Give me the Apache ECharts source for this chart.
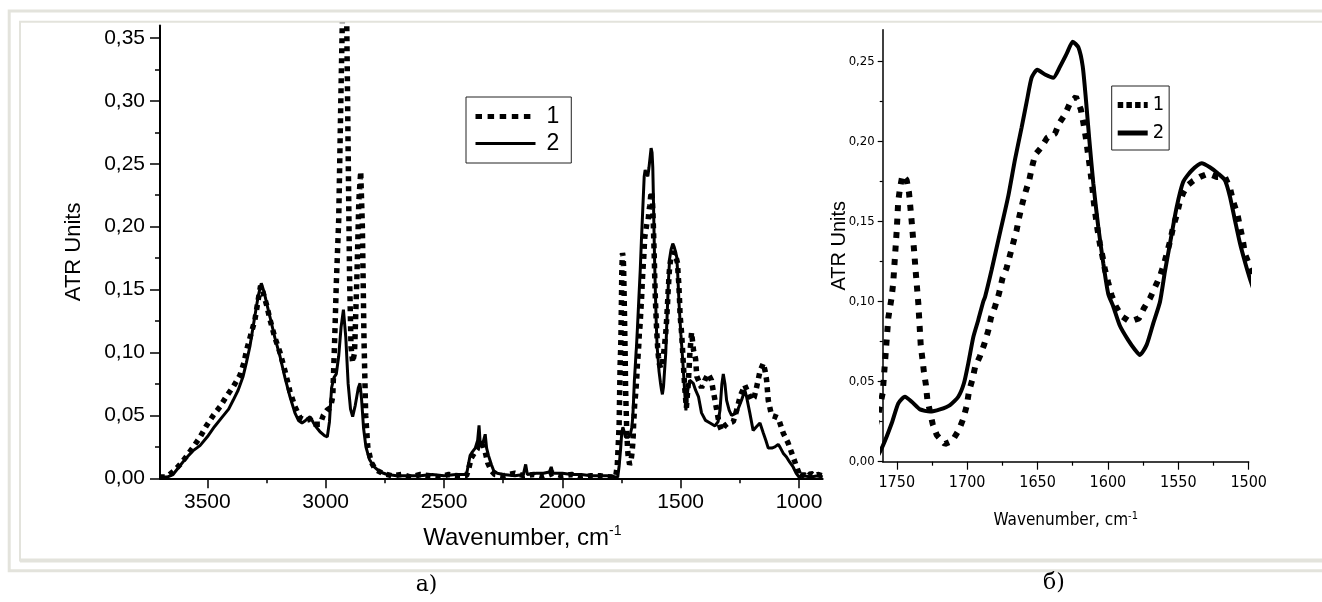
<!DOCTYPE html>
<html>
<head>
<meta charset="utf-8">
<script src="https://cdn.jsdelivr.net/npm/echarts@6/dist/echarts.min.js"></script>
<style>
  html, body { margin: 0; padding: 0; background: #fff; }
  #chart { width: 1322px; height: 602px; }
</style>
</head>
<body>
<div id="chart"></div>
<script>
// ATR spectra, sample 1 (dotted) and sample 2 (solid): [wavenumber, ATR units]
const sample1 = [
  [3700,0.001],[3680,0.001],[3660,0.003],[3640,0.006],[3615,0.011],[3590,0.017],[3559,0.025],[3530,0.033],
  [3503,0.042],[3475,0.05],[3446,0.057],[3420,0.065],[3390,0.073],[3362,0.082],[3345,0.092],[3334,0.102],
  [3315,0.115],[3299,0.126],[3285,0.142],[3275,0.153],[3265,0.148],[3250,0.138],[3235,0.126],[3215,0.112],
  [3193,0.1],[3170,0.084],[3151,0.069],[3130,0.057],[3108,0.048],[3085,0.046],[3066,0.047],[3045,0.043],
  [3024,0.043],[3010,0.05],[2995,0.054],[2980,0.056],[2970,0.065],[2962,0.11],[2955,0.155],[2945,0.205],
  [2936,0.3],[2928,0.38],[2920,0.44],[2912,0.38],[2905,0.26],[2899,0.16],[2893,0.105],[2886,0.092],
  [2878,0.1],[2868,0.16],[2860,0.22],[2852,0.244],[2845,0.2],[2838,0.11],[2831,0.05],[2822,0.025],
  [2808,0.013],[2790,0.007],[2760,0.004],[2720,0.002],[2680,0.003],[2640,0.001],[2600,0.003],[2560,0.002],
  [2520,0.001],[2480,0.003],[2440,0.002],[2405,0.002],[2395,0.008],[2385,0.016],[2372,0.02],[2360,0.023],
  [2352,0.03],[2345,0.024],[2336,0.027],[2326,0.021],[2315,0.012],[2300,0.006],[2285,0.003],[2250,0.002],
  [2200,0.004],[2160,0.002],[2120,0.003],[2080,0.001],[2040,0.004],[2000,0.002],[1960,0.003],[1920,0.001],
  [1880,0.002],[1840,0.002],[1800,0.001],[1775,0.001],[1768,0.01],[1763,0.03],[1760,0.043],
  [1756,0.09],[1753.6,0.103],[1752.5,0.112],[1751.3,0.128],[1750,0.145],[1749,0.1625],[1747.7,0.171],
  [1746,0.179],[1743,0.176],[1741.3,0.168],[1739.4,0.15],[1737.8,0.133],[1736.3,0.116],[1734.7,0.099],
  [1733,0.073],[1731.9,0.065],[1730.7,0.056],[1729.3,0.048],[1728.3,0.039],[1724.5,0.0236],[1721.6,0.0167],
  [1715.8,0.011],[1710.6,0.013],[1705.8,0.02],[1702.7,0.027],[1700.3,0.035],[1698.7,0.044],[1696.4,0.051],
  [1694.4,0.059],[1690.9,0.066],[1688,0.073],[1685,0.082],[1683.1,0.09],[1680.2,0.097],[1677.4,0.105],
  [1674.8,0.115],[1672,0.121],[1669.6,0.129],[1667.2,0.137],[1664.8,0.145],[1663,0.153],[1660.6,0.162],
  [1658.4,0.169],[1655.9,0.176],[1653.7,0.185],[1651.6,0.192],[1647.8,0.196],[1643.1,0.2025],[1637.6,0.205],
  [1634.6,0.2115],[1630.5,0.217],[1627,0.224],[1622.7,0.228],[1619.2,0.22],[1617.5,0.212],[1615.9,0.2036],
  [1614.7,0.196],[1613.3,0.187],[1612.1,0.179],[1610.9,0.17],[1610,0.162],[1608.8,0.154],[1607.4,0.145],
  [1605.7,0.136],[1603.8,0.128],[1602.1,0.12],[1599.8,0.112],[1597.4,0.104],[1594.3,0.097],[1590.3,0.091],
  [1584.4,0.0875],[1578,0.0896],[1574.4,0.096],[1570.2,0.102],[1566.6,0.109],[1563,0.116],[1560,0.124],
  [1557.9,0.131],[1555.5,0.139],[1553.6,0.147],[1551.2,0.154],[1548.9,0.1625],[1546.5,0.168],[1543,0.173],
  [1539.4,0.1756],[1534.6,0.178],[1528.8,0.18],[1522.8,0.178],[1516.9,0.178],[1513.3,0.171],[1511,0.1625],
  [1508.1,0.155],[1506.2,0.147],[1504.3,0.139],[1502.7,0.13],
  [1496,0.115],[1490,0.095],[1483,0.072],[1476,0.056],[1468,0.075],[1461,0.1],[1454,0.116],[1446,0.102],
  [1437,0.095],[1432,0.081],[1412,0.072],[1398,0.078],[1384,0.083],[1370,0.078],[1363,0.07],[1355,0.062],
  [1342,0.048],[1334,0.041],[1327,0.038],[1313,0.042],[1299,0.044],[1278,0.045],[1262,0.055],[1249,0.065],
  [1229,0.074],[1214,0.0675],[1200,0.062],[1190,0.064],[1182,0.07],[1165,0.085],[1151,0.0914],[1143,0.085],
  [1137,0.078],[1130,0.062],[1116,0.05],[1100,0.049],[1088,0.048],[1067,0.036],[1046,0.028],[1025,0.017],
  [1010,0.009],[1000,0.004],[996,0.001],[980,0.003],[965,0.001],[950,0.004],[935,0.002],[920,0.003],[900,0.002]
];

const sample2 = [
  [3700,0.0],[3690,0.001],[3670,0.001],[3645,0.003],[3620,0.009],[3590,0.016],[3560,0.022],[3531,0.026],
  [3500,0.033],[3470,0.041],[3440,0.048],[3410,0.055],[3391,0.062],[3370,0.07],[3349,0.081],[3335,0.092],
  [3320,0.105],[3300,0.128],[3285,0.145],[3272,0.155],[3260,0.148],[3248,0.138],[3235,0.128],[3215,0.112],
  [3193,0.097],[3172,0.08],[3151,0.065],[3130,0.052],[3115,0.046],[3100,0.044],[3085,0.046],[3066,0.049],
  [3045,0.042],[3024,0.037],[3005,0.034],[2993,0.033],[2984,0.045],[2975,0.072],[2965,0.08],[2955,0.083],
  [2945,0.097],[2935,0.12],[2925,0.134],[2915,0.112],[2905,0.075],[2895,0.055],[2886,0.049],[2875,0.058],
  [2862,0.072],[2855,0.0755],[2848,0.062],[2840,0.04],[2830,0.025],[2815,0.015],[2795,0.009],[2770,0.005],
  [2740,0.003],[2700,0.002],[2650,0.002],[2600,0.002],[2550,0.003],[2500,0.002],[2450,0.003],[2405,0.003],
  [2398,0.01],[2390,0.018],[2380,0.021],[2368,0.024],[2358,0.03],[2352,0.042],[2347,0.027],[2340,0.025],
  [2333,0.03],[2326,0.035],[2320,0.024],[2312,0.018],[2300,0.011],[2290,0.006],[2275,0.004],[2250,0.003],
  [2200,0.002],[2165,0.003],[2155,0.011],[2148,0.003],[2110,0.004],[2080,0.004],[2055,0.005],[2047,0.009],
  [2040,0.004],[2000,0.004],[1960,0.003],[1920,0.003],[1880,0.002],[1840,0.002],[1800,0.002],[1775,0.001],
  [1766,0.001],[1760,0.0098],
  [1753.6,0.024],[1748.9,0.0365],[1744.2,0.0406],[1739.4,0.0375],[1733.5,0.0327],[1726.4,0.0313],
  [1719.3,0.0327],[1712.2,0.0354],[1706.3,0.0406],[1702.3,0.049],[1699.2,0.0615],[1695.6,0.078],
  [1692.1,0.0886],[1688.6,0.1],[1687.3,0.103],[1682.6,0.12],[1676.7,0.143],[1670.8,0.166],[1666,0.189],
  [1661.3,0.209],[1657.7,0.225],[1654.2,0.24],[1650.2,0.245],[1644.7,0.242],[1638.8,0.24],[1634,0.247],
  [1629.3,0.255],[1625,0.2625],[1621,0.259],[1617.9,0.247],[1615.6,0.226],[1613.2,0.201],[1610.4,0.174],
  [1606.9,0.147],[1603.3,0.124],[1599.8,0.105],[1596.2,0.097],[1591.5,0.085],[1585.6,0.076],[1580.8,0.07],
  [1577.3,0.0667],[1572.5,0.073],[1567.8,0.0865],[1563,0.1],[1559.5,0.119],[1555.9,0.1365],[1551.2,0.159],
  [1546.5,0.175],[1540.5,0.182],[1533.4,0.1865],[1527.6,0.184],[1521.6,0.18],[1516.9,0.176],[1513.3,0.1656],
  [1509.8,0.151],[1506.2,0.1365],[1502.7,0.125],[1499.2,0.1146],
  [1490,0.09],[1483,0.068],[1478,0.054],[1470,0.07],[1462,0.078],[1447,0.0755],[1437,0.07],[1425,0.065],
  [1412,0.052],[1395,0.046],[1376,0.044],[1355,0.0416],[1342,0.045],[1334,0.054],[1326,0.075],[1320,0.083],
  [1313,0.075],[1306,0.062],[1295,0.054],[1285,0.05],[1264,0.052],[1243,0.062],[1229,0.07],[1222,0.065],
  [1208,0.052],[1194,0.038],[1180,0.041],[1165,0.044],[1151,0.036],[1140,0.03],[1130,0.024],[1115,0.024],
  [1102,0.025],[1088,0.027],[1081,0.025],[1067,0.02],[1053,0.017],[1040,0.013],[1025,0.009],[1012,0.004],
  [1000,0.001],[980,0.002],[950,0.001],[920,0.002],[900,0.001]
];

// Axis ticks, full range panel (a)
const xTicksA = [3500, 3000, 2500, 2000, 1500, 1000];
const xMinorA = [3250, 2750, 2250, 1750, 1250];
const yTicksA = [0, 0.05, 0.10, 0.15, 0.20, 0.25, 0.30, 0.35];
const yMinorA = [0.025, 0.075, 0.125, 0.175, 0.225, 0.275, 0.325];
// Axis ticks, carbonyl / amide region panel (б)
const xTicksB = [1750, 1700, 1650, 1600, 1550, 1500];
const xMinorB = [1725, 1675, 1625, 1575, 1525];
const yTicksB = [0, 0.05, 0.10, 0.15, 0.20, 0.25];
const yMinorB = [0.025, 0.075, 0.125, 0.175, 0.225];

const legendNames = ['1', '2'];

const SANS = "'Liberation Sans', Arial, sans-serif";
const NARROW = "'Liberation Sans Narrow', 'Arial Narrow', 'DejaVu Sans Condensed', sans-serif";
const fmtY = v => v.toFixed(2).replace('.', ',');
const fmtX = v => String(Math.round(v));
const hiddenSymbol = { opacity: 0, color: 'rgba(0,0,0,0)', borderWidth: 0 };

function majorAxis(o) {
  return Object.assign({
    type: 'value',
    nameMoveOverlap: false,
    splitLine: { show: false },
    axisLine: { show: true, onZero: false, lineStyle: { color: '#000', width: 2 } },
  }, o);
}
function minorAxis(o) {
  return Object.assign({
    type: 'value',
    offset: 0,
    splitLine: { show: false },
    axisLine: { show: false, onZero: false },
    axisLabel: { show: false },
  }, o);
}

const chart = echarts.init(document.getElementById('chart'), null, { renderer: 'canvas' });

const option = {
  animation: false,
  backgroundColor: '#fff',
  grid: [
    { left: 160, top: 25.4, width: 662.7, height: 452.9 },
    { left: 882.7, top: 29.7, width: 366, height: 432 }
  ],
  xAxis: [
    majorAxis({
      gridIndex: 0, position: 'bottom', min: 900, max: 3700, inverse: true,
      axisTick: { show: true, customValues: xTicksA, length: 10, lineStyle: { color: '#000', width: 1.5 } },
      axisLabel: { customValues: xTicksA, formatter: fmtX, fontSize: 21, fontFamily: SANS, color: '#000', margin: 13 },
      name: 'Wavenumber, cm{sup|-1}', nameLocation: 'middle', nameGap: 46,
      nameTextStyle: {
        fontSize: 24, fontFamily: SANS, color: '#000', padding: [0, 0, 0, 62], lineHeight: 28,
        rich: { sup: { fontSize: 14, fontFamily: SANS, color: '#000', verticalAlign: 'top', lineHeight: 14 } }
      }
    }),
    minorAxis({
      gridIndex: 0, position: 'bottom', min: 900, max: 3700, inverse: true,
      axisTick: { show: true, customValues: xMinorA, length: 5, lineStyle: { color: '#000', width: 1.5 } }
    }),
    majorAxis({
      gridIndex: 1, position: 'bottom', min: 1500, max: 1760, inverse: true,
      axisLine: { show: true, onZero: false, lineStyle: { color: '#000', width: 1.5 } },
      axisTick: { show: true, customValues: xTicksB, length: 8, lineStyle: { color: '#000', width: 1.2 } },
      axisLabel: { customValues: xTicksB, formatter: fmtX, fontSize: 16, fontFamily: NARROW, color: '#000', margin: 13 },
      name: 'Wavenumber, cm{sup|-1}', nameLocation: 'middle', nameGap: 49,
      nameTextStyle: {
        fontSize: 17, fontFamily: NARROW, color: '#000', lineHeight: 20,
        rich: { sup: { fontSize: 11, fontFamily: NARROW, color: '#000', verticalAlign: 'top', lineHeight: 11 } }
      }
    }),
    minorAxis({
      gridIndex: 1, position: 'bottom', min: 1500, max: 1760, inverse: true,
      axisTick: { show: true, customValues: xMinorB, length: 4, lineStyle: { color: '#000', width: 1.2 } }
    })
  ],
  yAxis: [
    majorAxis({
      gridIndex: 0, position: 'left', min: 0, max: 0.36,
      axisTick: { show: true, customValues: yTicksA, length: 10, lineStyle: { color: '#000', width: 1.5 } },
      axisLabel: { customValues: yTicksA, formatter: fmtY, fontSize: 21, fontFamily: SANS, color: '#000', margin: 15 },
      name: 'ATR Units', nameLocation: 'middle', nameRotate: 90, nameGap: 75,
      nameTextStyle: { fontSize: 22, fontFamily: SANS, color: '#000' }
    }),
    minorAxis({
      gridIndex: 0, position: 'left', min: 0, max: 0.36,
      axisTick: { show: true, customValues: yMinorA, length: 5, lineStyle: { color: '#000', width: 1.5 } }
    }),
    majorAxis({
      gridIndex: 1, position: 'left', min: 0, max: 0.27,
      axisLine: { show: true, onZero: false, lineStyle: { color: '#000', width: 1.5 } },
      axisTick: { show: true, customValues: yTicksB, length: 5, lineStyle: { color: '#000', width: 1.2 } },
      axisLabel: { customValues: yTicksB, formatter: fmtY, fontSize: 13, fontFamily: NARROW, color: '#000', margin: 8 },
      name: 'ATR Units', nameLocation: 'middle', nameRotate: 90, nameGap: 33,
      nameTextStyle: { fontSize: 20, fontFamily: SANS, color: '#000' }
    }),
    minorAxis({
      gridIndex: 1, position: 'left', min: 0, max: 0.27,
      axisTick: { show: true, customValues: yMinorB, length: 3, lineStyle: { color: '#000', width: 1.2 } }
    })
  ],
  legend: [
    {
      left: 466, top: 97, orient: 'vertical', selectedMode: false,
      itemWidth: 60, itemHeight: 14, itemGap: 4,
      padding: [8, 12, 8, 7],
      borderColor: '#222', borderWidth: 1,
      itemStyle: hiddenSymbol,
      textStyle: { fontSize: 23, fontFamily: SANS, color: '#000', padding: [0, 0, 0, 6] },
      data: [
        { name: legendNames[0], itemStyle: hiddenSymbol, lineStyle: { type: [6.5, 5.6], width: 5, cap: 'butt', color: '#000' } },
        { name: legendNames[1], itemStyle: hiddenSymbol, lineStyle: { width: 3, color: '#000' } }
      ]
    },
    {
      left: 1111.7, top: 86, orient: 'vertical', selectedMode: false,
      itemWidth: 30, itemHeight: 12, itemGap: 8,
      padding: [9, 5, 7, 3],
      borderColor: '#222', borderWidth: 1,
      itemStyle: hiddenSymbol,
      textStyle: { fontSize: 20, fontFamily: NARROW, color: '#000' },
      data: [
        { name: legendNames[0], itemStyle: hiddenSymbol, lineStyle: { type: [5.5, 3.2], width: 6, cap: 'butt', color: '#000' } },
        { name: legendNames[1], itemStyle: hiddenSymbol, lineStyle: { width: 5, color: '#000' } }
      ]
    }
  ],
  series: [
    {
      name: legendNames[0], type: 'line', xAxisIndex: 0, yAxisIndex: 0, data: sample1,
      symbol: 'none', clip: true, z: 3, itemStyle: { color: '#000' },
      lineStyle: { color: '#000', width: 5.5, type: [5, 5], cap: 'butt' }
    },
    {
      name: legendNames[1], type: 'line', xAxisIndex: 0, yAxisIndex: 0, data: sample2,
      symbol: 'none', clip: true, z: 2, itemStyle: { color: '#000' },
      lineStyle: { color: '#000', width: 3 }
    },
    {
      name: legendNames[0], type: 'line', xAxisIndex: 2, yAxisIndex: 2, data: sample1,
      symbol: 'none', clip: true, z: 3, itemStyle: { color: '#000' },
      lineStyle: { color: '#000', width: 6, type: [6, 7.5], cap: 'butt' }
    },
    {
      name: legendNames[1], type: 'line', xAxisIndex: 2, yAxisIndex: 2, data: sample2,
      symbol: 'none', clip: true, z: 2, smooth: 0.2, itemStyle: { color: '#000' },
      lineStyle: { color: '#000', width: 4 }
    }
  ],
  graphic: [
    // page frame (double table border)
    { type: 'polyline', silent: true, shape: { points: [[1322, 11], [9.2, 11], [9.2, 570.8], [1322, 570.8]] },
      style: { stroke: '#e3e3dc', lineWidth: 3, fill: null } },
    { type: 'polyline', silent: true, shape: { points: [[1322, 21.7], [20, 21.7], [20, 560.5], [1322, 560.5]] },
      style: { stroke: '#e3e3dc', lineWidth: 2, fill: null } },
    { type: 'line', silent: true, shape: { x1: 20, y1: 560.5, x2: 1322, y2: 560.5 },
      style: { stroke: '#e3e3dc', lineWidth: 4 } },
    // panel captions
    { type: 'text', silent: true, x: 426.5, y: 585.5,
      style: { text: 'а)', fontSize: 22, fontFamily: "'DejaVu Serif', serif", fill: '#000', align: 'center', verticalAlign: 'middle' } },
    { type: 'text', silent: true, x: 1054, y: 583,
      style: { text: 'б)', fontSize: 22, fontFamily: "'DejaVu Serif', serif", fill: '#000', align: 'center', verticalAlign: 'middle' } }
  ]
};

chart.setOption(option);
</script>
</body>
</html>
